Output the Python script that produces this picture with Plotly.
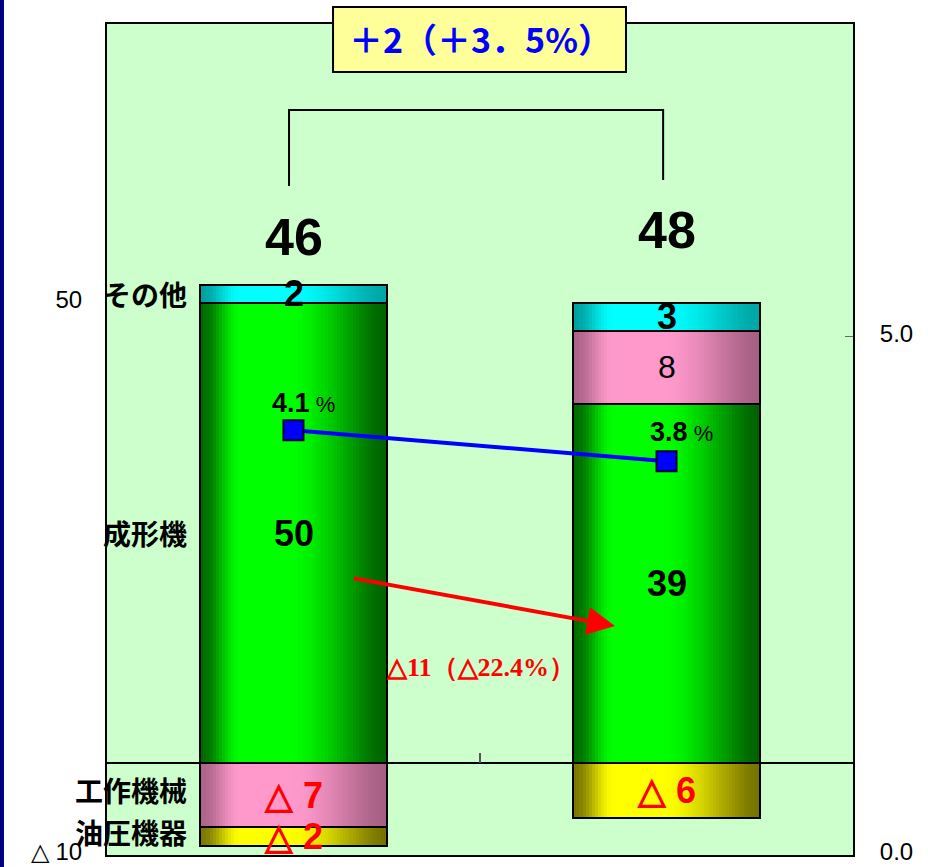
import math
import plotly.graph_objects as go

# --- data -------------------------------------------------------------
bar_x = [0, 1]                      # previous period, current period
series_names = ["成形機", "工作機械", "油圧機器", "その他"]
molding = [50, 39]                  # 成形機
machine_tools = [-7, 8]             # 工作機械
hydraulics = [-2, -6]               # 油圧機器
others = [2, 3]                     # その他
totals = [46, 48]
ratio_pct = [4.1, 3.8]              # right axis (%)
total_change_text = "＋2（＋3．5%）"
molding_change_text = "△11（△22.4%）"
left_ticks = [-10, 50]
left_tick_text = ["△ 10", "50"]
right_ticks = [0, 5]
right_tick_text = ["0.0", "5.0"]

series_values = [molding, machine_tools, hydraulics, others]

# --- styles -----------------------------------------------------------
SANS = "Liberation Sans, Arial, sans-serif"
JP = "Noto Sans CJK JP, sans-serif"
SERIF = "Liberation Serif, Times New Roman, serif"

# (left edge, highlight, right edge) for the cylinder-like shading
palette = {
    "成形機": ((0, 105, 0), (0, 255, 0), (0, 98, 0)),
    "工作機械": ((172, 100, 136), (255, 153, 204), (165, 95, 130)),
    "油圧機器": ((122, 118, 0), (255, 255, 0), (118, 114, 0)),
    "その他": ((0, 160, 160), (0, 255, 255), (0, 165, 165)),
}

BAR_W = 0.5
N_SLICES = 60


def smooth(u):
    u = min(max(u, 0.0), 1.0)
    return u * u * (3 - 2 * u)


def shade(name, t):
    left, peak, right = palette[name]
    lo, hi = 0.22, 0.47
    if t < lo:
        f, edge = smooth(t / lo), left
    elif t <= hi:
        f, edge = 1.0, left
    else:
        f, edge = smooth(1 - (t - hi) / (1 - hi)) ** 0.8, right
    c = [round(e + (p - e) * f) for e, p in zip(edge, peak)]
    return f"rgb({c[0]},{c[1]},{c[2]})"


# stacked bases: positives grow up from zero, negatives grow down
seg_x, seg_y, seg_base, seg_name = [], [], [], []
for i, xv in enumerate(bar_x):
    pos_top, neg_bottom = 0.0, 0.0
    for name, vals in zip(series_names, series_values):
        v = vals[i]
        if v == 0:
            continue
        if v > 0:
            base = pos_top
            pos_top += v
        else:
            base = neg_bottom
            neg_bottom += v
        seg_x.append(xv)
        seg_y.append(v)
        seg_base.append(base)
        seg_name.append(name)

fig = go.Figure()

slice_w = BAR_W / N_SLICES
for k in range(N_SLICES):
    t = (k + 0.5) / N_SLICES
    fig.add_trace(go.Bar(
        x=seg_x, y=seg_y, base=seg_base,
        width=slice_w * 1.25, offset=-BAR_W / 2 + k * slice_w,
        marker=dict(color=[shade(n, t) for n in seg_name], line=dict(width=0)),
        hoverinfo="skip", showlegend=False,
    ))

# segment outlines
fig.add_trace(go.Bar(
    x=seg_x, y=seg_y, base=seg_base, width=BAR_W, offset=-BAR_W / 2,
    marker=dict(color="rgba(0,0,0,0)", line=dict(color="black", width=2)),
    customdata=seg_name, hovertemplate="%{customdata}: %{y}<extra></extra>",
    showlegend=False,
))

# ratio line on the right axis
fig.add_trace(go.Scatter(
    x=bar_x, y=ratio_pct, yaxis="y2", mode="lines+markers",
    line=dict(color="#0000FF", width=4),
    marker=dict(symbol="square", size=20, color="#0000FF",
                line=dict(color="#000033", width=2)),
    hovertemplate="%{y}%<extra></extra>", showlegend=False,
))

annotations = []

# values inside each segment
for xv, v, b, n in zip(seg_x, seg_y, seg_base, seg_name):
    mid = b + v / 2
    if v < 0:
        txt, col, size, bold = f"△ {abs(v)}", "#FF0000", 36, True
    else:
        txt, col = str(v), "black"
        size, bold = (32, False) if n == "工作機械" else (36, True)
    if bold:
        txt = f"<b>{txt}</b>"
    annotations.append(dict(
        x=xv, y=mid, xref="x", yref="y", text=txt, showarrow=False,
        font=dict(family=SANS, size=size, color=col),
    ))

# totals above bars
for xv, tot, lift in zip(bar_x, totals, [57.2, 57.9]):
    annotations.append(dict(
        x=xv, y=lift, xref="x", yref="y", text=f"<b>{tot}</b>",
        showarrow=False, font=dict(family=SANS, size=52, color="black"),
    ))

# ratio labels
for xv, r, dx, dy in zip(bar_x, ratio_pct, [10, 15], [27, 29]):
    annotations.append(dict(
        x=xv, y=r, xref="x", yref="y2", xshift=dx, yshift=dy,
        text=f"<b>{r}</b><span style='font-size:22px'> %</span>",
        showarrow=False, font=dict(family=SANS, size=27, color="black"),
    ))

# series names beside the first bar
first_bar = {n: (b + v / 2) for xv, v, b, n in zip(seg_x, seg_y, seg_base, seg_name) if xv == 0}
for n, ys in [("その他", 0), ("成形機", 0), ("工作機械", 5), ("油圧機器", 5)]:
    annotations.append(dict(
        x=-0.28, y=first_bar[n], xref="x", yref="y", yshift=ys, xanchor="right",
        text=f"<b>{n}</b>", showarrow=False,
        font=dict(family=JP, size=28, color="black"),
    ))

# molding decrease arrow and label
annotations.append(dict(
    x=0.862, y=14.9, ax=0.158, ay=20.1, xref="x", yref="y", axref="x", ayref="y",
    text="", showarrow=True, arrowhead=2, arrowsize=1.4, arrowwidth=4,
    arrowcolor="#FF0000", standoff=0,
))
annotations.append(dict(
    x=0.5, y=10.4, xref="x", yref="y", text=f"<b>{molding_change_text}</b>",
    showarrow=False, font=dict(family=SERIF, size=26, color="#FF0000"),
))

# total change box
annotations.append(dict(
    x=0.5, y=0.983, xref="paper", yref="paper", xanchor="center", yanchor="middle",
    text=f"<b>{total_change_text}</b>",
    showarrow=False, font=dict(family=JP, size=34, color="#0000FF"),
))

shapes = [
    # change box
    dict(type="rect", xref="paper", yref="paper", x0=0.303, x1=0.6957,
         y0=0.9422, y1=1.0205, fillcolor="#FFFF99",
         line=dict(color="black", width=2), layer="above"),
    # bracket between the two totals
    dict(type="path", xref="x", yref="paper",
         path="M -0.012 0.805 L -0.012 0.8965 L 0.991 0.8965 L 0.991 0.8123",
         line=dict(color="black", width=2)),
    # category divider tick on the zero line
    dict(type="line", xref="x", yref="y", x0=0.5, x1=0.5, y0=0, y1=1.1,
         line=dict(color="#555555", width=2)),
    # navy edge strip
    dict(type="rect", xref="paper", yref="paper", x0=-0.16, x1=-0.1381,
         y0=-0.1, y1=1.1, fillcolor="#000080", line=dict(width=0), layer="below"),
]

fig.update_layout(
    width=928, height=867,
    margin=dict(l=107, r=75, t=24, b=12, autoexpand=False),
    paper_bgcolor="white", plot_bgcolor="#CCFFCC",
    barmode="overlay", bargap=0, showlegend=False,
    font=dict(family=SANS, size=24, color="black"),
    xaxis=dict(range=[-0.5, 1.5], showticklabels=False, ticks="",
               showgrid=False, zeroline=False, showline=True, mirror=True,
               linecolor="black", linewidth=2, fixedrange=True, automargin=False),
    yaxis=dict(range=[-10.0001, 80.33], tickvals=left_ticks, ticktext=left_tick_text,
               ticks="", showgrid=False, zeroline=True, zerolinecolor="black",
               zerolinewidth=1.5, showline=True, linecolor="black", linewidth=2,
               ticklabelstandoff=18, ticklabelshift=-3, ticklabeloverflow="allow",
               fixedrange=True, automargin=False),
    yaxis2=dict(range=[-0.0001, 8.02], overlaying="y", side="right",
                tickvals=right_ticks, ticktext=right_tick_text,
                ticks="inside", ticklen=8, tickcolor="#666666", tickwidth=1,
                showgrid=False, zeroline=False, showline=True,
                linecolor="black", linewidth=2, ticklabelstandoff=20,
                ticklabelshift=-3, ticklabeloverflow="allow",
                fixedrange=True, automargin=False),
    annotations=annotations,
    shapes=shapes,
)

fig.write_html("out.html")
